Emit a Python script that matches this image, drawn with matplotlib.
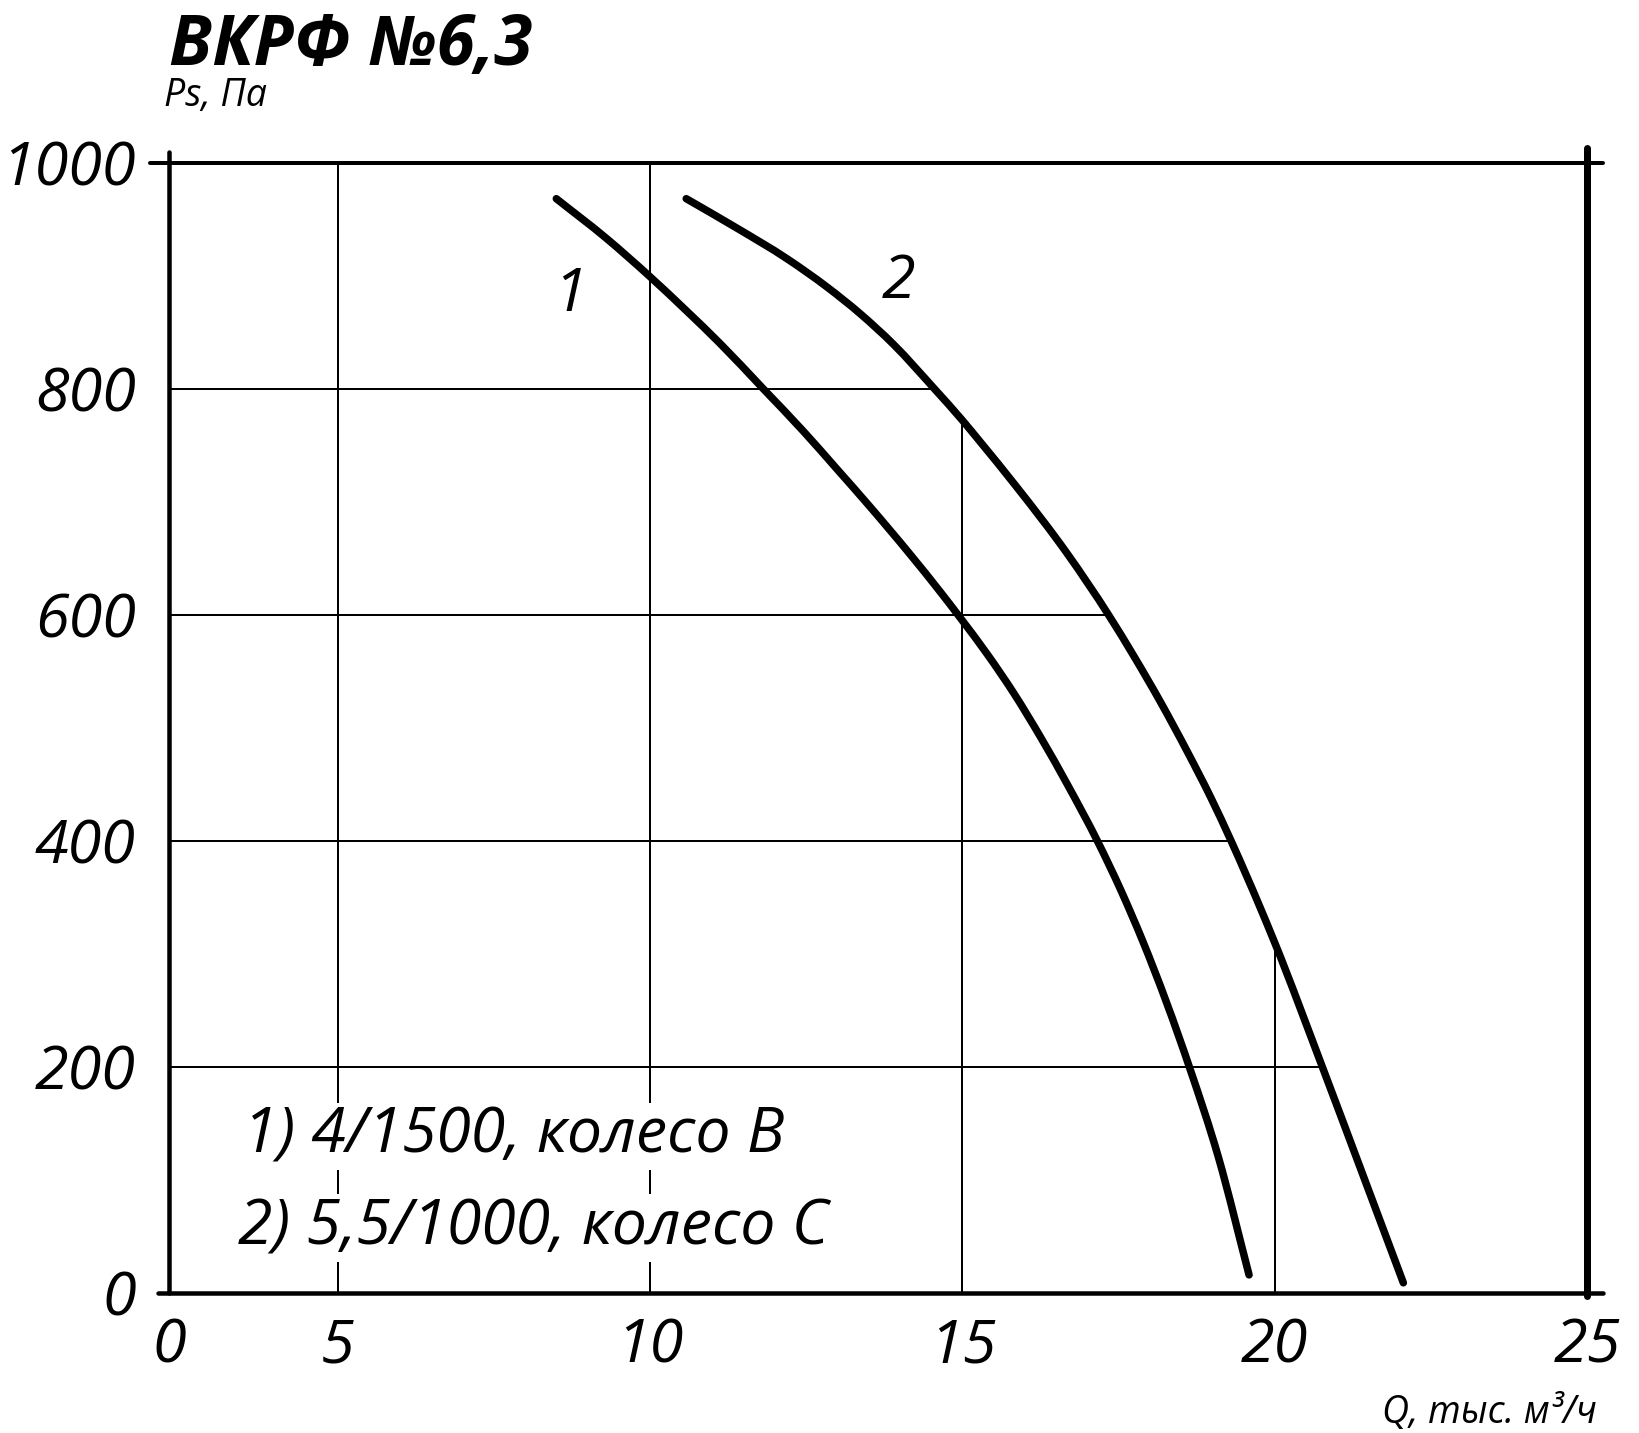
import numpy as np
import matplotlib
matplotlib.use("Agg")
import matplotlib.pyplot as plt
from matplotlib.path import Path
from matplotlib.patches import PathPatch

# ---- data ----
title = "ВКРФ №6,3"
y_label = "Ps, Па"
x_label = "Q, тыс. м³/ч"

curve1_q = [8.50, 9.30, 10.0, 10.58, 11.12, 11.81, 12.46, 12.99, 13.53, 14.17, 14.65,
            14.97, 15.40, 15.83, 16.26, 16.68, 17.17, 17.54, 17.89, 18.64, 19.10, 19.59]
curve1_p = [968, 933, 899, 869, 840, 800, 762, 729, 695, 653, 620,
            597, 565, 530, 491, 450, 399, 356, 311, 199, 120, 16]

curve2_q = [10.58, 11.39, 12.19, 12.83, 13.37, 13.90, 14.55, 15.0, 15.27, 15.87, 16.68,
            17.35, 17.75, 18.18, 18.61, 18.98, 19.31, 19.76, 20.0, 20.77, 21.47, 22.06]
curve2_p = [968, 942, 915, 890, 866, 839, 800, 772, 754, 713, 654,
            599, 563, 522, 478, 438, 399, 342, 310, 199, 96, 9]

x_tick_values = [5, 10, 15, 20, 25]
x_tick_labels = ["0", "5", "10", "15", "20", "25"]
y_tick_values = [0, 200, 400, 600, 800, 1000]
y_tick_labels = ["0", "200", "400", "600", "800", "1000"]

legend_lines = ["1) 4/1500, колесо В", "2) 5,5/1000, колесо С"]
curve_labels = ["1", "2"]

# ---- styling ----
FONT = "Open Sans"
plt.rcParams['font.family'] = [FONT, 'DejaVu Sans']

W, H = 1639, 1433
fig = plt.figure(figsize=(W / 100, H / 100), dpi=100)
L, R, T, B = 169, 1587, 162.5, 1293
ax = fig.add_axes([L / W, (H - B) / H, (R - L) / W, (B - T) / H])

x_left = 2.30   # left edge of the plot (labelled "0")
ax.set_xlim(x_left, 25)
ax.set_ylim(0, 1000)
for s in ax.spines.values():
    s.set_visible(False)

ax.set_xticks([x_left] + x_tick_values)
ax.set_xticklabels(x_tick_labels)
ax.set_yticks(y_tick_values)
ax.set_yticklabels(y_tick_labels)
ax.tick_params(length=0, labelsize=44, pad=0)
ax.tick_params(axis='x', pad=17)
ax.tick_params(axis='y', pad=24)
for lab in ax.get_xticklabels() + ax.get_yticklabels():
    lab.set_fontstyle('italic')

px = 0.72  # points per pixel at dpi 100

# grid lines, clipped to the area under curve 2
c2x = np.array(curve2_q)
c2y = np.array(curve2_p)
for xv in x_tick_values[:-1]:
    top = np.interp(xv, c2x, c2y, left=1000)
    ax.plot([xv, xv], [0, top], color='black', lw=2 * px, solid_capstyle='butt', zorder=1)
for yv in y_tick_values[1:-1]:
    right = np.interp(yv, c2y[::-1], c2x[::-1])
    ax.plot([x_left, right], [yv, yv], color='black', lw=2 * px, solid_capstyle='butt', zorder=1)

# frame
kw = dict(color='black', clip_on=False, solid_capstyle='round', zorder=3)
ax.plot([2.0, 25.26], [1000, 1000], lw=4 * px, **kw)
ax.plot([2.13, 25.26], [0, 0], lw=4.5 * px, **kw)
ax.plot([x_left, x_left], [0, 1009], lw=4.5 * px, **kw)
ax.plot([25, 25], [-3, 1013], lw=7 * px, **kw)


def smooth_path(xs, ys):
    """Smooth cubic (Hermite -> Bezier) curve through the read points, y as a function of x."""
    x = np.asarray(xs, float)
    y = np.asarray(ys, float)
    h = np.diff(x)
    d = np.diff(y) / h
    m = np.empty_like(y)
    m[0], m[-1] = d[0], d[-1]
    m[1:-1] = (d[:-1] * h[1:] + d[1:] * h[:-1]) / (h[:-1] + h[1:])
    verts = [(x[0], y[0])]
    codes = [Path.MOVETO]
    for i in range(len(x) - 1):
        verts += [(x[i] + h[i] / 3, y[i] + m[i] * h[i] / 3),
                  (x[i + 1] - h[i] / 3, y[i + 1] - m[i + 1] * h[i] / 3),
                  (x[i + 1], y[i + 1])]
        codes += [Path.CURVE4] * 3
    return Path(verts, codes)


for q, p in ((curve1_q, curve1_p), (curve2_q, curve2_p)):
    ax.add_patch(PathPatch(smooth_path(q, p), fill=False, edgecolor='black',
                           lw=7.5 * px, capstyle='round', joinstyle='round', zorder=4))

ax.text(8.72, 883, curve_labels[0], fontsize=44, style='italic', ha='center', va='center')
ax.text(13.98, 894, curve_labels[1], fontsize=44, style='italic', ha='center', va='center')

bb = dict(facecolor='white', edgecolor='none', pad=2)
ax.text(3.49, 124, legend_lines[0], fontsize=45, style='italic', ha='left',
        va='baseline', bbox=bb, zorder=5)
ax.text(3.41, 43, legend_lines[1], fontsize=45, style='italic', ha='left',
        va='baseline', bbox=bb, zorder=5)

fig.text(169 / W, 1 - 65 / H, title, fontsize=50, fontweight='bold', style='italic',
         ha='left', va='baseline')
fig.text(164 / W, 1 - 106 / H, y_label, fontsize=27, style='italic', ha='left', va='baseline')
fig.text(1597 / W, 1 - 1423 / H, x_label, fontsize=27, style='italic', ha='right', va='baseline')

fig.savefig("out.png", dpi=100)
